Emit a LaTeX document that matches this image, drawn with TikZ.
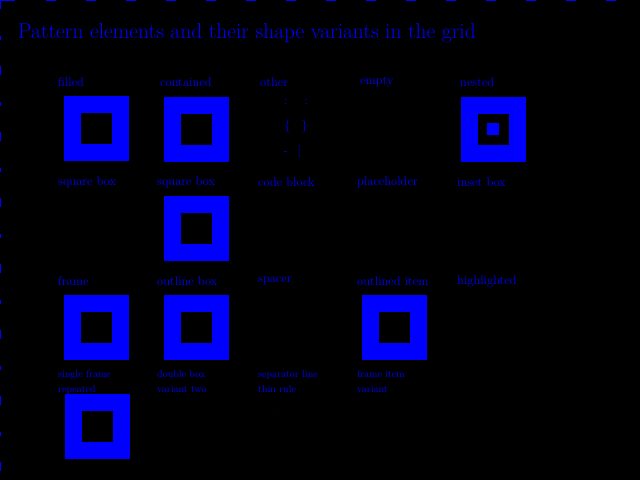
\documentclass[tikz,border=0pt]{standalone}
\usetikzlibrary{positioning}
\begin{document}
\begin{tikzpicture}[x=1pt,y=-1pt,
  sqbox/.style={draw=blue,line width=17pt,minimum size=48pt,inner sep=0pt,fill=black},
  dotbox/.style={fill=blue,minimum size=12pt,inner sep=0pt},
  lbl/.style={text=blue,font=\fontsize{12.5}{14}\selectfont,anchor=west,inner sep=0pt},
  lbltwo/.style={lbl,align=left,font=\fontsize{10}{15}\selectfont},
  ttl/.style={text=blue,font=\fontsize{21.5}{24}\selectfont,anchor=west,inner sep=0pt},
  frameline/.style={draw=blue,line width=2pt}]
\fill[black] (0,0) rectangle (640,480);
\useasboundingbox (0,0) rectangle (640,480);
% frame
\draw[frameline,dash pattern=on 15pt off 31pt on 10pt off 30pt on 10pt off 30pt on 10pt off 30pt on 10pt off 30pt on 10pt off 30pt on 10pt off 30pt on 10pt off 30pt on 10pt off 30pt on 10pt off 30pt on 10pt off 30pt on 10pt off 30pt on 10pt off 30pt on 10pt off 30pt on 10pt off 30pt on 10pt off 30pt] (0,0) coordinate (tl) -- (640,0) coordinate (tr);
\draw[frameline,dash pattern=on 9pt off 27pt on 4pt off 26pt] (tl) -- (0,480) coordinate (bl);
% title
\node[ttl] (title) at (18,33) {Pattern elements and their shape variants in the grid};
% row 1
\node[lbl] (t11) at (58,82) {filled};
\node[lbl] (t12) at (160,82) {contained};
\node[lbl] (t13) at (260,82) {other};
\node[lbl] (t14) at (360,82) {empty};
\node[lbl] (t15) at (460,82) {nested};
\node[sqbox] (s11) at (96.5,128.5) {};
\node[sqbox] (s12) at (196,129) {};
\node[lbl,align=center,anchor=center,font=\fontsize{12}{25}\selectfont] (m13) at (296,128) {: \;\; :\\ \{ \; \}\\ - \, [ \;};
\node[sqbox] (s15) at (493,129) {};
\node[dotbox] (d15) at (s15.center) {};
\node[lbl] (b11) at (58,182) {square box};
\node[lbl] (b12) at (157,182) {square box};
\node[lbl] (b13) at (258,182) {code block};
\node[lbl] (b14) at (357,182) {placeholder};
\node[lbl] (b15) at (457,182) {inset box};
% row 2
\node[sqbox] (s22) at (196,228) {};
% row 3
\node[lbl] (t31) at (58,281) {frame};
\node[lbl] (t32) at (157,281) {outline box};
\node[lbl] (t33) at (258,281) {spacer};
\node[lbl] (t34) at (357,281) {outlined item};
\node[lbl] (t35) at (457,281) {highlighted};
\node[sqbox] (s31) at (96.5,327) {};
\node[sqbox] (s32) at (196,327) {};
\node[sqbox] (s34) at (394,327) {};
\node[lbltwo] (b31) at (58,382) {single frame\\repeated};
\node[lbltwo] (b32) at (157,382) {double box\\variant two};
\node[lbltwo] (b33) at (258,382) {separator line\\thin rule};
\node[lbltwo] (b34) at (357,382) {frame item\\variant};
\node[lbl,font=\fontsize{8}{9}\selectfont] (e33) at (276,410) {.};
% row 4
\node[sqbox] (s41) at (97,426) {};
\end{tikzpicture}
\end{document}
